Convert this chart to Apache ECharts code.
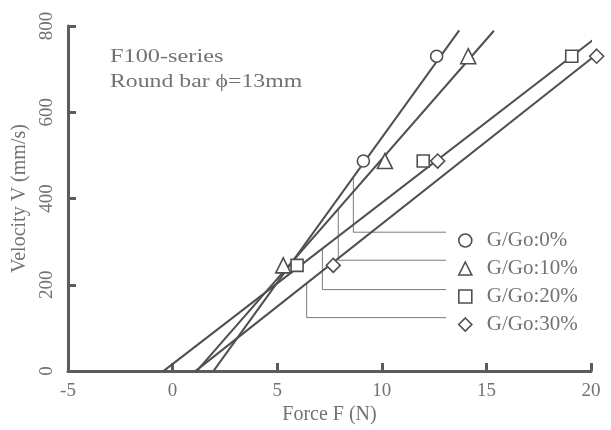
<!DOCTYPE html>
<html>
<head>
<meta charset="utf-8">
<script src="https://cdn.jsdelivr.net/npm/echarts@6/dist/echarts.min.js"></script>
<style>
  html, body { margin: 0; padding: 0; background: #fff; }
  #chart { width: 611px; height: 430px; }
</style>
</head>
<body>
<div id="chart"></div>
<script>
// Axis ticks
const forceTicks = [-5, 0, 5, 10, 15, 20];
const velocityTicks = [0, 200, 400, 600, 800];

// Series names (G/Go ratio)
const seriesNames = ['G/Go:0%', 'G/Go:10%', 'G/Go:20%', 'G/Go:30%'];
const seriesSymbols = ['circle', 'triangle', 'rect', 'diamond'];

// Measured points: force F (N) and velocity V (mm/s)
const forceG0 = [9.12, 12.62];
const velocityG0 = [487, 730];
const forceG10 = [5.29, 10.15, 14.13];
const velocityG10 = [245, 487, 730];
const forceG20 = [5.95, 11.98, 19.08];
const velocityG20 = [245, 487, 730];
const forceG30 = [7.68, 12.67, 20.27];
const velocityG30 = [245, 487, 730];

// Fitted straight lines: [start, end] in (F, V)
const fitG0 = [[1.95, 0], [13.70, 790]];
const fitG10 = [[1.15, 0], [15.36, 789]];
const fitG20 = [[-0.44, 0], [20.67, 789]];
const fitG30 = [[1.09, 0], [21.2, 770]];

// Legend leader lines: F where each leader meets its line,
// V at that point, V of the legend row, F where the leader ends
const leaderF = [8.64, 7.92, 7.16, 6.41];
const leaderTopV = [450, 377, 284, 204];
const leaderRowV = [322, 257, 189, 124];
const leaderEndF = 13.07;

const INK = '#4f4f4f';
const TEXT = '#727272';
const SERIF = '"Liberation Serif", "Times New Roman", serif';

const chart = echarts.init(document.getElementById('chart'), null, { renderer: 'canvas' });

const pointSets = [
  [forceG0, velocityG0],
  [forceG10, velocityG10],
  [forceG20, velocityG20],
  [forceG30, velocityG30]
];
const fits = [fitG0, fitG10, fitG20, fitG30];
const symbolSizes = [12, 15, 12, 14];

const series = [];
fits.forEach((fit, i) => {
  series.push({
    type: 'line',
    name: seriesNames[i] + ' fit',
    data: fit,
    symbol: 'none',
    clip: false,
    silent: true,
    lineStyle: { color: INK, width: 2 },
    z: 2
  });
});
leaderF.forEach((f, i) => {
  series.push({
    type: 'line',
    name: 'leader ' + i,
    data: [[f, leaderTopV[i]], [f, leaderRowV[i]], [leaderEndF, leaderRowV[i]]],
    symbol: 'none',
    silent: true,
    lineStyle: { color: '#7a7a7a', width: 1 },
    z: 1
  });
});
pointSets.forEach(([fs, vs], i) => {
  series.push({
    type: 'scatter',
    name: seriesNames[i],
    data: fs.map((f, k) => [f, vs[k]]),
    symbol: seriesSymbols[i],
    symbolSize: symbolSizes[i],
    clip: false,
    itemStyle: { color: '#fff', borderColor: INK, borderWidth: 1.6, opacity: 1 },
    z: 5
  });
});

chart.setOption({
  animation: false,
  backgroundColor: '#fff',
  grid: { left: 68, right: 20, top: 26, bottom: 54, containLabel: false },
  xAxis: {
    type: 'value',
    min: forceTicks[0],
    max: forceTicks[forceTicks.length - 1],
    interval: forceTicks[1] - forceTicks[0],
    name: 'Force F (N)',
    nameLocation: 'middle',
    nameGap: 26,
    nameTextStyle: { color: TEXT, fontFamily: SERIF, fontSize: 20 },
    axisLine: { show: true, onZero: false, lineStyle: { color: '#5c5c5c', width: 3 } },
    axisTick: { show: true, inside: true, length: 8, lineStyle: { color: '#5c5c5c', width: 3 } },
    axisLabel: { color: TEXT, fontFamily: SERIF, fontSize: 19, margin: 10 },
    splitLine: { show: false }
  },
  yAxis: {
    type: 'value',
    min: velocityTicks[0],
    max: velocityTicks[velocityTicks.length - 1],
    interval: velocityTicks[1] - velocityTicks[0],
    name: 'Velocity V (mm/s)',
    nameLocation: 'middle',
    nameGap: 31,
    nameTextStyle: { color: TEXT, fontFamily: SERIF, fontSize: 20 },
    axisLine: { show: true, onZero: false, lineStyle: { color: '#5c5c5c', width: 3 } },
    axisTick: { show: true, inside: true, length: 8, lineStyle: { color: '#5c5c5c', width: 3 } },
    axisLabel: { color: TEXT, fontFamily: SERIF, fontSize: 19, margin: 11, rotate: 90 },
    splitLine: { show: false }
  },
  legend: {
    data: seriesNames.map((n, i) => ({ name: n, icon: seriesSymbols[i] })),
    orient: 'vertical',
    left: 453,
    top: 225,
    itemWidth: 13,
    itemHeight: 13,
    itemGap: 7,
    selectedMode: false,
    itemStyle: { color: '#fff', borderColor: INK, borderWidth: 1.6 },
    textStyle: { color: TEXT, fontFamily: SERIF, fontSize: 21, padding: [0, 0, 0, 10] }
  },
  graphic: [
    {
      type: 'text', x: 110, y: 57, scaleX: 1.28,
      style: { text: 'F100-series', fill: TEXT, font: '19px ' + SERIF, verticalAlign: 'middle' }
    },
    {
      type: 'text', x: 110, y: 82, scaleX: 1.25,
      style: { text: 'Round bar \u03D5=13mm', fill: TEXT, font: '19px ' + SERIF, verticalAlign: 'middle' }
    }
  ],
  series: series
});
</script>
</body>
</html>
